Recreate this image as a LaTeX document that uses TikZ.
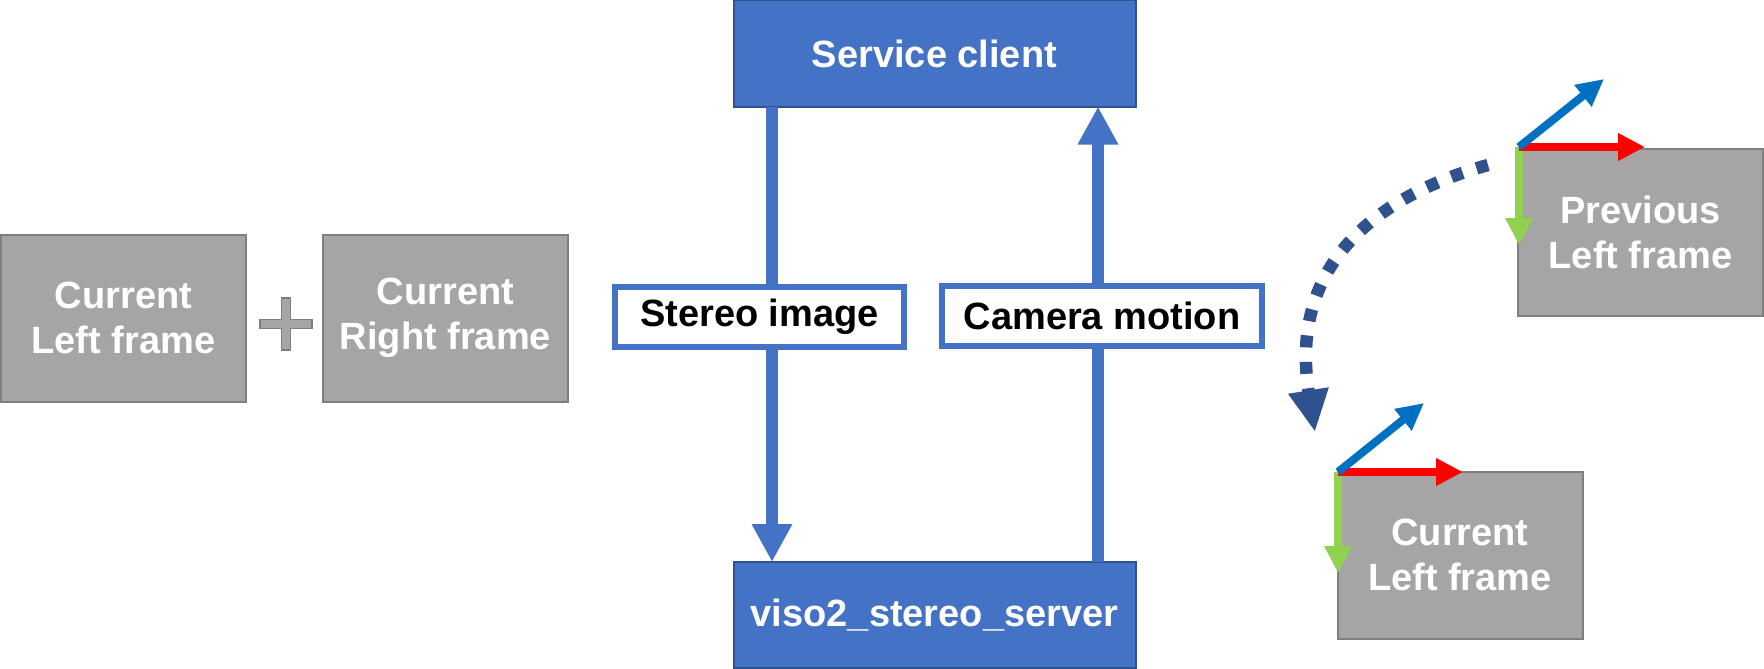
\documentclass[tikz,border=0pt]{standalone}
\usepackage{fontspec}
\setmainfont{Liberation Sans}
\usetikzlibrary{arrows.meta}
\definecolor{boxblue}{HTML}{4472C4}
\definecolor{boxblueline}{HTML}{2F528F}
\definecolor{framegray}{HTML}{A5A5A5}
\definecolor{framegrayline}{HTML}{7F7F7F}
\definecolor{axblue}{HTML}{0070C0}
\definecolor{axred}{HTML}{FF0000}
\definecolor{axgreen}{HTML}{92D050}
\definecolor{arcblue}{HTML}{2F528F}
\begin{document}
\begin{tikzpicture}[x=1pt,y=-1pt,
  every node/.style={font=\fontsize{38}{45}\selectfont\bfseries, inner sep=0pt, outer sep=0pt},
  framebox/.style={rectangle, fill=framegray, draw=framegrayline, line width=2pt,
    minimum width=245pt, minimum height=167pt, text=white, align=center},
  bluebox/.style={rectangle, fill=boxblue, draw=boxblueline, line width=2pt,
    minimum width=402pt, minimum height=106pt, text=white},
  labelbox/.style={rectangle, fill=white, draw=boxblue, line width=6pt,
    minimum height=60pt, text=black},
  flow/.style={draw=boxblue, line width=12pt, -{Triangle[length=38pt,width=38pt]}},
  axis/.style={line width=8pt, -{Triangle[length=27pt,width=26pt]}},
  motion/.style={draw=arcblue, line width=12.5pt, dash pattern=on 12pt off 14.5pt,
    -{Triangle[length=42pt,width=38pt]}},
  plussign/.style={fill=framegray, draw=framegrayline, line width=1.5pt}
]
\fill[white] (0,0) rectangle (1764,669);
\useasboundingbox (0,0) rectangle (1764,669);

% left input frames
\node[framebox] (cl) at (123.5,318) {Current\\Left frame};
\node[framebox] (cr) at (445.5,318) {Current\\Right frame};
\draw[plussign] (281.5,298) -- (290.5,298) -- (290.5,319.5) -- (312,319.5)
  -- (312,328.5) -- (290.5,328.5) -- (290.5,350) -- (281.5,350) -- (281.5,328.5)
  -- (260,328.5) -- (260,319.5) -- (281.5,319.5) -- cycle;

% client / server
\node[bluebox] (sc) at (934.5,53.5) {Service client};
\node[bluebox] (vs) at (934.5,615) {viso2\_stereo\_server};

\coordinate (dnx) at (772,0);
\coordinate (upx) at (1098,0);
\draw[flow] (dnx |- sc.south) -- (dnx |- vs.north);
\draw[flow] (upx |- vs.north) -- (upx |- sc.south);

\node[labelbox, minimum width=289pt] (si) at (759.5,316.5) {Stereo image};
\node[labelbox, minimum width=320pt] (cm) at (1102,316) {Camera motion};

% right: previous and current frames
\node[framebox] (pl) at (1640.5,232) {Previous\\Left frame};
\node[framebox] (cu) at (1460,555) {Current\\Left frame};

\coordinate (po) at (1519,147);
\coordinate (px) at (1645,147);
\coordinate (py) at (1519,245);
\coordinate (pz) at (1604,79);
\draw[axis, axgreen] (po) -- (py);
\draw[axis, axred] (po) -- (px);
\draw[axis, axblue] (po) -- (pz);

\coordinate (co) at (1338,472);
\coordinate (cx) at (1463,472);
\coordinate (cy) at (1338,573);
\coordinate (cz) at (1424,403);
\draw[axis, axgreen] (co) -- (cy);
\draw[axis, axred] (co) -- (cx);
\draw[axis, axblue] (co) -- (cz);

% motion arc
\coordinate (mS) at (1488,165);
\coordinate (mE) at (1315,432);
\draw[motion] (mS) .. controls (1380,195) and (1288,262) .. (mE);
\end{tikzpicture}
\end{document}
